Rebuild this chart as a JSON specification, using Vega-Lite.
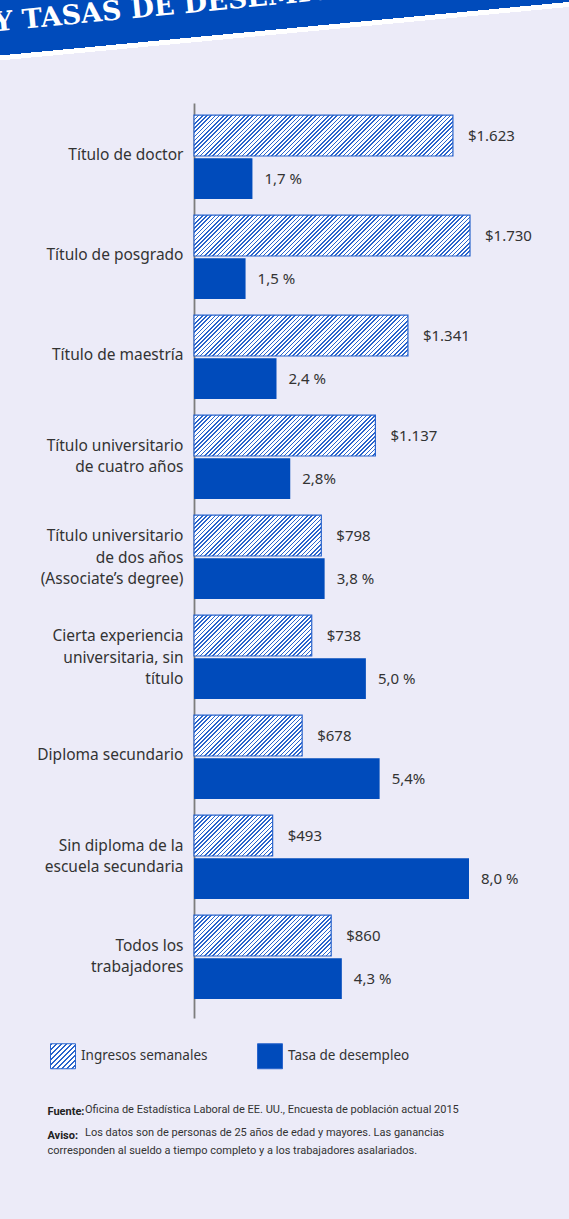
{
"$schema": "https://vega.github.io/schema/vega-lite/v6.json",
"width": 569, "height": 1219,
"autosize": {"type": "none"},
"padding": 0,
"background": "#ffffff",
"view": {"stroke": null, "fill": {"gradient": "linear", "x1": 0, "y1": 0, "x2": 0.0439, "y2": 1, "stops": [
 {"offset": 0, "color": "#004bbb"}, {"offset": 0.0454, "color": "#004bbb"},
 {"offset": 0.0454, "color": "#ffffff"}, {"offset": 0.0495, "color": "#ffffff"},
 {"offset": 0.0495, "color": "#ecebf8"}, {"offset": 1, "color": "#ecebf8"}]}},
"params": [
{"name": "legendHatch", "value": {"gradient": "linear", "x1": 0, "y1": 0, "x2": 1, "y2": 1, "stops": [
 {"offset":0,"color":"#2a64cc"},{"offset":0.036,"color":"#2a64cc"},{"offset":0.036,"color":"#fff"},{"offset":0.1,"color":"#fff"},
 {"offset":0.1,"color":"#2a64cc"},{"offset":0.136,"color":"#2a64cc"},{"offset":0.136,"color":"#fff"},{"offset":0.2,"color":"#fff"},
 {"offset":0.2,"color":"#2a64cc"},{"offset":0.236,"color":"#2a64cc"},{"offset":0.236,"color":"#fff"},{"offset":0.3,"color":"#fff"},
 {"offset":0.3,"color":"#2a64cc"},{"offset":0.336,"color":"#2a64cc"},{"offset":0.336,"color":"#fff"},{"offset":0.4,"color":"#fff"},
 {"offset":0.4,"color":"#2a64cc"},{"offset":0.436,"color":"#2a64cc"},{"offset":0.436,"color":"#fff"},{"offset":0.5,"color":"#fff"},
 {"offset":0.5,"color":"#2a64cc"},{"offset":0.536,"color":"#2a64cc"},{"offset":0.536,"color":"#fff"},{"offset":0.6,"color":"#fff"},
 {"offset":0.6,"color":"#2a64cc"},{"offset":0.636,"color":"#2a64cc"},{"offset":0.636,"color":"#fff"},{"offset":0.7,"color":"#fff"},
 {"offset":0.7,"color":"#2a64cc"},{"offset":0.736,"color":"#2a64cc"},{"offset":0.736,"color":"#fff"},{"offset":0.8,"color":"#fff"},
 {"offset":0.8,"color":"#2a64cc"},{"offset":0.836,"color":"#2a64cc"},{"offset":0.836,"color":"#fff"},{"offset":0.9,"color":"#fff"},
 {"offset":0.9,"color":"#2a64cc"},{"offset":0.936,"color":"#2a64cc"},{"offset":0.936,"color":"#fff"},{"offset":1,"color":"#fff"}]}},
{"name": "hatch", "value": [
{"offset":0,"color":"#2a64cc"},{"offset":0.005,"color":"#2a64cc"},{"offset":0.005,"color":"#fff"},{"offset":0.0125,"color":"#fff"},
{"offset":0.0125,"color":"#2a64cc"},{"offset":0.0175,"color":"#2a64cc"},{"offset":0.0175,"color":"#fff"},{"offset":0.025,"color":"#fff"},
{"offset":0.025,"color":"#2a64cc"},{"offset":0.03,"color":"#2a64cc"},{"offset":0.03,"color":"#fff"},{"offset":0.0375,"color":"#fff"},
{"offset":0.0375,"color":"#2a64cc"},{"offset":0.0425,"color":"#2a64cc"},{"offset":0.0425,"color":"#fff"},{"offset":0.05,"color":"#fff"},
{"offset":0.05,"color":"#2a64cc"},{"offset":0.055,"color":"#2a64cc"},{"offset":0.055,"color":"#fff"},{"offset":0.0625,"color":"#fff"},
{"offset":0.0625,"color":"#2a64cc"},{"offset":0.0675,"color":"#2a64cc"},{"offset":0.0675,"color":"#fff"},{"offset":0.075,"color":"#fff"},
{"offset":0.075,"color":"#2a64cc"},{"offset":0.08,"color":"#2a64cc"},{"offset":0.08,"color":"#fff"},{"offset":0.0875,"color":"#fff"},
{"offset":0.0875,"color":"#2a64cc"},{"offset":0.0925,"color":"#2a64cc"},{"offset":0.0925,"color":"#fff"},{"offset":0.1,"color":"#fff"},
{"offset":0.1,"color":"#2a64cc"},{"offset":0.105,"color":"#2a64cc"},{"offset":0.105,"color":"#fff"},{"offset":0.1125,"color":"#fff"},
{"offset":0.1125,"color":"#2a64cc"},{"offset":0.1175,"color":"#2a64cc"},{"offset":0.1175,"color":"#fff"},{"offset":0.125,"color":"#fff"},
{"offset":0.125,"color":"#2a64cc"},{"offset":0.13,"color":"#2a64cc"},{"offset":0.13,"color":"#fff"},{"offset":0.1375,"color":"#fff"},
{"offset":0.1375,"color":"#2a64cc"},{"offset":0.1425,"color":"#2a64cc"},{"offset":0.1425,"color":"#fff"},{"offset":0.15,"color":"#fff"},
{"offset":0.15,"color":"#2a64cc"},{"offset":0.155,"color":"#2a64cc"},{"offset":0.155,"color":"#fff"},{"offset":0.1625,"color":"#fff"},
{"offset":0.1625,"color":"#2a64cc"},{"offset":0.1675,"color":"#2a64cc"},{"offset":0.1675,"color":"#fff"},{"offset":0.175,"color":"#fff"},
{"offset":0.175,"color":"#2a64cc"},{"offset":0.18,"color":"#2a64cc"},{"offset":0.18,"color":"#fff"},{"offset":0.1875,"color":"#fff"},
{"offset":0.1875,"color":"#2a64cc"},{"offset":0.1925,"color":"#2a64cc"},{"offset":0.1925,"color":"#fff"},{"offset":0.2,"color":"#fff"},
{"offset":0.2,"color":"#2a64cc"},{"offset":0.205,"color":"#2a64cc"},{"offset":0.205,"color":"#fff"},{"offset":0.2125,"color":"#fff"},
{"offset":0.2125,"color":"#2a64cc"},{"offset":0.2175,"color":"#2a64cc"},{"offset":0.2175,"color":"#fff"},{"offset":0.225,"color":"#fff"},
{"offset":0.225,"color":"#2a64cc"},{"offset":0.23,"color":"#2a64cc"},{"offset":0.23,"color":"#fff"},{"offset":0.2375,"color":"#fff"},
{"offset":0.2375,"color":"#2a64cc"},{"offset":0.2425,"color":"#2a64cc"},{"offset":0.2425,"color":"#fff"},{"offset":0.25,"color":"#fff"},
{"offset":0.25,"color":"#2a64cc"},{"offset":0.255,"color":"#2a64cc"},{"offset":0.255,"color":"#fff"},{"offset":0.2625,"color":"#fff"},
{"offset":0.2625,"color":"#2a64cc"},{"offset":0.2675,"color":"#2a64cc"},{"offset":0.2675,"color":"#fff"},{"offset":0.275,"color":"#fff"},
{"offset":0.275,"color":"#2a64cc"},{"offset":0.28,"color":"#2a64cc"},{"offset":0.28,"color":"#fff"},{"offset":0.2875,"color":"#fff"},
{"offset":0.2875,"color":"#2a64cc"},{"offset":0.2925,"color":"#2a64cc"},{"offset":0.2925,"color":"#fff"},{"offset":0.3,"color":"#fff"},
{"offset":0.3,"color":"#2a64cc"},{"offset":0.305,"color":"#2a64cc"},{"offset":0.305,"color":"#fff"},{"offset":0.3125,"color":"#fff"},
{"offset":0.3125,"color":"#2a64cc"},{"offset":0.3175,"color":"#2a64cc"},{"offset":0.3175,"color":"#fff"},{"offset":0.325,"color":"#fff"},
{"offset":0.325,"color":"#2a64cc"},{"offset":0.33,"color":"#2a64cc"},{"offset":0.33,"color":"#fff"},{"offset":0.3375,"color":"#fff"},
{"offset":0.3375,"color":"#2a64cc"},{"offset":0.3425,"color":"#2a64cc"},{"offset":0.3425,"color":"#fff"},{"offset":0.35,"color":"#fff"},
{"offset":0.35,"color":"#2a64cc"},{"offset":0.355,"color":"#2a64cc"},{"offset":0.355,"color":"#fff"},{"offset":0.3625,"color":"#fff"},
{"offset":0.3625,"color":"#2a64cc"},{"offset":0.3675,"color":"#2a64cc"},{"offset":0.3675,"color":"#fff"},{"offset":0.375,"color":"#fff"},
{"offset":0.375,"color":"#2a64cc"},{"offset":0.38,"color":"#2a64cc"},{"offset":0.38,"color":"#fff"},{"offset":0.3875,"color":"#fff"},
{"offset":0.3875,"color":"#2a64cc"},{"offset":0.3925,"color":"#2a64cc"},{"offset":0.3925,"color":"#fff"},{"offset":0.4,"color":"#fff"},
{"offset":0.4,"color":"#2a64cc"},{"offset":0.405,"color":"#2a64cc"},{"offset":0.405,"color":"#fff"},{"offset":0.4125,"color":"#fff"},
{"offset":0.4125,"color":"#2a64cc"},{"offset":0.4175,"color":"#2a64cc"},{"offset":0.4175,"color":"#fff"},{"offset":0.425,"color":"#fff"},
{"offset":0.425,"color":"#2a64cc"},{"offset":0.43,"color":"#2a64cc"},{"offset":0.43,"color":"#fff"},{"offset":0.4375,"color":"#fff"},
{"offset":0.4375,"color":"#2a64cc"},{"offset":0.4425,"color":"#2a64cc"},{"offset":0.4425,"color":"#fff"},{"offset":0.45,"color":"#fff"},
{"offset":0.45,"color":"#2a64cc"},{"offset":0.455,"color":"#2a64cc"},{"offset":0.455,"color":"#fff"},{"offset":0.4625,"color":"#fff"},
{"offset":0.4625,"color":"#2a64cc"},{"offset":0.4675,"color":"#2a64cc"},{"offset":0.4675,"color":"#fff"},{"offset":0.475,"color":"#fff"},
{"offset":0.475,"color":"#2a64cc"},{"offset":0.48,"color":"#2a64cc"},{"offset":0.48,"color":"#fff"},{"offset":0.4875,"color":"#fff"},
{"offset":0.4875,"color":"#2a64cc"},{"offset":0.4925,"color":"#2a64cc"},{"offset":0.4925,"color":"#fff"},{"offset":0.5,"color":"#fff"},
{"offset":0.5,"color":"#2a64cc"},{"offset":0.505,"color":"#2a64cc"},{"offset":0.505,"color":"#fff"},{"offset":0.5125,"color":"#fff"},
{"offset":0.5125,"color":"#2a64cc"},{"offset":0.5175,"color":"#2a64cc"},{"offset":0.5175,"color":"#fff"},{"offset":0.525,"color":"#fff"},
{"offset":0.525,"color":"#2a64cc"},{"offset":0.53,"color":"#2a64cc"},{"offset":0.53,"color":"#fff"},{"offset":0.5375,"color":"#fff"},
{"offset":0.5375,"color":"#2a64cc"},{"offset":0.5425,"color":"#2a64cc"},{"offset":0.5425,"color":"#fff"},{"offset":0.55,"color":"#fff"},
{"offset":0.55,"color":"#2a64cc"},{"offset":0.555,"color":"#2a64cc"},{"offset":0.555,"color":"#fff"},{"offset":0.5625,"color":"#fff"},
{"offset":0.5625,"color":"#2a64cc"},{"offset":0.5675,"color":"#2a64cc"},{"offset":0.5675,"color":"#fff"},{"offset":0.575,"color":"#fff"},
{"offset":0.575,"color":"#2a64cc"},{"offset":0.58,"color":"#2a64cc"},{"offset":0.58,"color":"#fff"},{"offset":0.5875,"color":"#fff"},
{"offset":0.5875,"color":"#2a64cc"},{"offset":0.5925,"color":"#2a64cc"},{"offset":0.5925,"color":"#fff"},{"offset":0.6,"color":"#fff"},
{"offset":0.6,"color":"#2a64cc"},{"offset":0.605,"color":"#2a64cc"},{"offset":0.605,"color":"#fff"},{"offset":0.6125,"color":"#fff"},
{"offset":0.6125,"color":"#2a64cc"},{"offset":0.6175,"color":"#2a64cc"},{"offset":0.6175,"color":"#fff"},{"offset":0.625,"color":"#fff"},
{"offset":0.625,"color":"#2a64cc"},{"offset":0.63,"color":"#2a64cc"},{"offset":0.63,"color":"#fff"},{"offset":0.6375,"color":"#fff"},
{"offset":0.6375,"color":"#2a64cc"},{"offset":0.6425,"color":"#2a64cc"},{"offset":0.6425,"color":"#fff"},{"offset":0.65,"color":"#fff"},
{"offset":0.65,"color":"#2a64cc"},{"offset":0.655,"color":"#2a64cc"},{"offset":0.655,"color":"#fff"},{"offset":0.6625,"color":"#fff"},
{"offset":0.6625,"color":"#2a64cc"},{"offset":0.6675,"color":"#2a64cc"},{"offset":0.6675,"color":"#fff"},{"offset":0.675,"color":"#fff"},
{"offset":0.675,"color":"#2a64cc"},{"offset":0.68,"color":"#2a64cc"},{"offset":0.68,"color":"#fff"},{"offset":0.6875,"color":"#fff"},
{"offset":0.6875,"color":"#2a64cc"},{"offset":0.6925,"color":"#2a64cc"},{"offset":0.6925,"color":"#fff"},{"offset":0.7,"color":"#fff"},
{"offset":0.7,"color":"#2a64cc"},{"offset":0.705,"color":"#2a64cc"},{"offset":0.705,"color":"#fff"},{"offset":0.7125,"color":"#fff"},
{"offset":0.7125,"color":"#2a64cc"},{"offset":0.7175,"color":"#2a64cc"},{"offset":0.7175,"color":"#fff"},{"offset":0.725,"color":"#fff"},
{"offset":0.725,"color":"#2a64cc"},{"offset":0.73,"color":"#2a64cc"},{"offset":0.73,"color":"#fff"},{"offset":0.7375,"color":"#fff"},
{"offset":0.7375,"color":"#2a64cc"},{"offset":0.7425,"color":"#2a64cc"},{"offset":0.7425,"color":"#fff"},{"offset":0.75,"color":"#fff"},
{"offset":0.75,"color":"#2a64cc"},{"offset":0.755,"color":"#2a64cc"},{"offset":0.755,"color":"#fff"},{"offset":0.7625,"color":"#fff"},
{"offset":0.7625,"color":"#2a64cc"},{"offset":0.7675,"color":"#2a64cc"},{"offset":0.7675,"color":"#fff"},{"offset":0.775,"color":"#fff"},
{"offset":0.775,"color":"#2a64cc"},{"offset":0.78,"color":"#2a64cc"},{"offset":0.78,"color":"#fff"},{"offset":0.7875,"color":"#fff"},
{"offset":0.7875,"color":"#2a64cc"},{"offset":0.7925,"color":"#2a64cc"},{"offset":0.7925,"color":"#fff"},{"offset":0.8,"color":"#fff"},
{"offset":0.8,"color":"#2a64cc"},{"offset":0.805,"color":"#2a64cc"},{"offset":0.805,"color":"#fff"},{"offset":0.8125,"color":"#fff"},
{"offset":0.8125,"color":"#2a64cc"},{"offset":0.8175,"color":"#2a64cc"},{"offset":0.8175,"color":"#fff"},{"offset":0.825,"color":"#fff"},
{"offset":0.825,"color":"#2a64cc"},{"offset":0.83,"color":"#2a64cc"},{"offset":0.83,"color":"#fff"},{"offset":0.8375,"color":"#fff"},
{"offset":0.8375,"color":"#2a64cc"},{"offset":0.8425,"color":"#2a64cc"},{"offset":0.8425,"color":"#fff"},{"offset":0.85,"color":"#fff"},
{"offset":0.85,"color":"#2a64cc"},{"offset":0.855,"color":"#2a64cc"},{"offset":0.855,"color":"#fff"},{"offset":0.8625,"color":"#fff"},
{"offset":0.8625,"color":"#2a64cc"},{"offset":0.8675,"color":"#2a64cc"},{"offset":0.8675,"color":"#fff"},{"offset":0.875,"color":"#fff"},
{"offset":0.875,"color":"#2a64cc"},{"offset":0.88,"color":"#2a64cc"},{"offset":0.88,"color":"#fff"},{"offset":0.8875,"color":"#fff"},
{"offset":0.8875,"color":"#2a64cc"},{"offset":0.8925,"color":"#2a64cc"},{"offset":0.8925,"color":"#fff"},{"offset":0.9,"color":"#fff"},
{"offset":0.9,"color":"#2a64cc"},{"offset":0.905,"color":"#2a64cc"},{"offset":0.905,"color":"#fff"},{"offset":0.9125,"color":"#fff"},
{"offset":0.9125,"color":"#2a64cc"},{"offset":0.9175,"color":"#2a64cc"},{"offset":0.9175,"color":"#fff"},{"offset":0.925,"color":"#fff"},
{"offset":0.925,"color":"#2a64cc"},{"offset":0.93,"color":"#2a64cc"},{"offset":0.93,"color":"#fff"},{"offset":0.9375,"color":"#fff"},
{"offset":0.9375,"color":"#2a64cc"},{"offset":0.9425,"color":"#2a64cc"},{"offset":0.9425,"color":"#fff"},{"offset":0.95,"color":"#fff"},
{"offset":0.95,"color":"#2a64cc"},{"offset":0.955,"color":"#2a64cc"},{"offset":0.955,"color":"#fff"},{"offset":0.9625,"color":"#fff"},
{"offset":0.9625,"color":"#2a64cc"},{"offset":0.9675,"color":"#2a64cc"},{"offset":0.9675,"color":"#fff"},{"offset":0.975,"color":"#fff"},
{"offset":0.975,"color":"#2a64cc"},{"offset":0.98,"color":"#2a64cc"},{"offset":0.98,"color":"#fff"},{"offset":0.9875,"color":"#fff"},
{"offset":0.9875,"color":"#2a64cc"},{"offset":0.9925,"color":"#2a64cc"},{"offset":0.9925,"color":"#fff"},{"offset":1,"color":"#fff"}
]}],
"title": {
 "text": "Oficina de Estadística Laboral de EE. UU., Encuesta de población actual 2015",
 "subtitle": "Los datos son de personas de 25 años de edad y mayores. Las ganancias",
 "orient": "bottom", "anchor": "start", "frame": "group",
 "offset": -115, "dx": 85,
 "font": "Roboto", "fontSize": 11, "fontWeight": "normal", "color": "#333333",
 "subtitleFont": "Roboto", "subtitleFontSize": 11, "subtitleColor": "#333333", "subtitlePadding": 12
},
"data": {"values": [
 {"nivel": "Título de doctor", "ingresos": 1623, "desempleo": 1.7, "ing_txt": "$1.623", "des_txt": "1,7 %"},
 {"nivel": "Título de posgrado", "ingresos": 1730, "desempleo": 1.5, "ing_txt": "$1.730", "des_txt": "1,5 %"},
 {"nivel": "Título de maestría", "ingresos": 1341, "desempleo": 2.4, "ing_txt": "$1.341", "des_txt": "2,4 %"},
 {"nivel": "Título universitario\nde cuatro años", "ingresos": 1137, "desempleo": 2.8, "ing_txt": "$1.137", "des_txt": "2,8%"},
 {"nivel": "Título universitario\nde dos años\n(Associate’s degree)", "ingresos": 798, "desempleo": 3.8, "ing_txt": "$798", "des_txt": "3,8 %"},
 {"nivel": "Cierta experiencia\nuniversitaria, sin\ntítulo", "ingresos": 738, "desempleo": 5.0, "ing_txt": "$738", "des_txt": "5,0 %"},
 {"nivel": "Diploma secundario", "ingresos": 678, "desempleo": 5.4, "ing_txt": "$678", "des_txt": "5,4%"},
 {"nivel": "Sin diploma de la\nescuela secundaria", "ingresos": 493, "desempleo": 8.0, "ing_txt": "$493", "des_txt": "8,0 %"},
 {"nivel": "Todos los\ntrabajadores", "ingresos": 860, "desempleo": 4.3, "ing_txt": "$860", "des_txt": "4,3 %"}
]},
"encoding": {
 "y": {"field": "nivel", "type": "nominal", "sort": null,
  "scale": {"type": "band", "range": [103, 1018], "paddingInner": 0.16, "paddingOuter": 0.155, "align": 0.39},
  "axis": {"orient": "left", "offset": -194, "domain": true, "domainColor": "#7d7d7d", "domainWidth": 1.8,
   "ticks": false, "tickSize": 0, "labelPadding": 11, "labelFont": "Noto Sans", "labelFontSize": 15.5, "labelColor": "#333333",
   "labelLimit": 250, "labelLineHeight": 21.5, "labelExpr": "split(datum.label, '\\n')",
   "labelOffset": {"expr": "-length(replace(datum.value, /[^\\n]/g, '')) * 9.5 - 2"},
   "title": "corresponden al sueldo a tiempo completo y a los trabajadores asalariados.",
   "titleAngle": 0, "titleX": -147, "titleY": 1153, "titleAlign": "left", "titleBaseline": "alphabetic",
   "titleFont": "Roboto", "titleFontSize": 11, "titleFontWeight": "normal", "titleColor": "#333333"}}
},
"layer": [
 {"name": "inc",
  "encoding": {
   "x": {"field": "ingresos", "type": "quantitative",
    "scale": {"domain": [0, 1730], "range": [194, 470], "nice": false, "zero": true},
    "axis": {"orient": "bottom", "domain": false, "ticks": false, "labels": false, "grid": false,
     "title": ["Fuente:", "Aviso:"], "titleX": 47, "titleY": -105, "titleAlign": "left", "titleBaseline": "alphabetic",
     "titleLineHeight": 24, "titleFont": "Roboto", "titleFontSize": 11, "titleFontWeight": "bold", "titleColor": "#222222"}},
   "yOffset": {"datum": "Ingresos semanales", "type": "nominal", "scale": {"domain": ["Ingresos semanales", "Tasa de desempleo"], "paddingInner": 0.05}}
  },
  "layer": [
   {"mark": {"type": "bar", "stroke": "#2a64cc", "strokeWidth": 1.2,
     "fill": {"expr": "{gradient:'linear',x1:0,y1:0,x2:336*(scale('inc_x',datum.ingresos)-scale('inc_x',0))/(pow(scale('inc_x',datum.ingresos)-scale('inc_x',0),2)+pow(bandwidth('yOffset'),2)),y2:336*bandwidth('yOffset')/(pow(scale('inc_x',datum.ingresos)-scale('inc_x',0),2)+pow(bandwidth('yOffset'),2)),stops:hatch}"}}},
   {"mark": {"type": "text", "align": "left", "baseline": "middle", "dx": 15, "font": "Noto Sans", "fontSize": 15, "color": "#333333"},
    "encoding": {"text": {"field": "ing_txt"}}}
  ]
 },
 {"name": "des",
  "encoding": {
   "x": {"field": "desempleo", "type": "quantitative",
    "scale": {"domain": [0, 8], "range": [194, 469], "nice": false, "zero": true},
    "axis": {"orient": "top", "domain": false, "ticks": false, "labels": false, "grid": false,
     "title": "Y TASAS DE DESEMPLEO", "titleX": -6, "titleY": 31, "titleAngle": -5.5, "titleAlign": "left", "titleBaseline": "alphabetic",
     "titleFont": "DejaVu Serif", "titleFontSize": 27, "titleFontWeight": "bold", "titleColor": "#ffffff"}},
   "yOffset": {"datum": "Tasa de desempleo", "type": "nominal", "scale": {"domain": ["Ingresos semanales", "Tasa de desempleo"], "paddingInner": 0.05}}
  },
  "layer": [
   {"mark": {"type": "bar"},
    "encoding": {"fill": {"datum": "Tasa de desempleo", "type": "nominal",
     "scale": {"domain": ["Ingresos semanales", "Tasa de desempleo"], "range": [{"expr": "legendHatch"}, "#004bbb"]},
     "legend": {"orient": "none", "legendX": 50, "legendY": 1043, "direction": "horizontal", "title": null,
      "symbolType": "square", "symbolSize": 625, "symbolStrokeColor": "#2a64cc", "symbolStrokeWidth": 1,
      "labelFont": "Noto Sans", "labelFontSize": 13.5, "labelColor": "#333333", "labelOffset": 5, "labelLimit": 300,
      "columnPadding": 47, "padding": 0}}}},
   {"mark": {"type": "text", "align": "left", "baseline": "middle", "dx": 12, "font": "Noto Sans", "fontSize": 15, "color": "#333333"},
    "encoding": {"text": {"field": "des_txt"}}}
  ]
 }
],
"resolve": {"scale": {"x": "independent"}, "axis": {"x": "independent"}}
}
